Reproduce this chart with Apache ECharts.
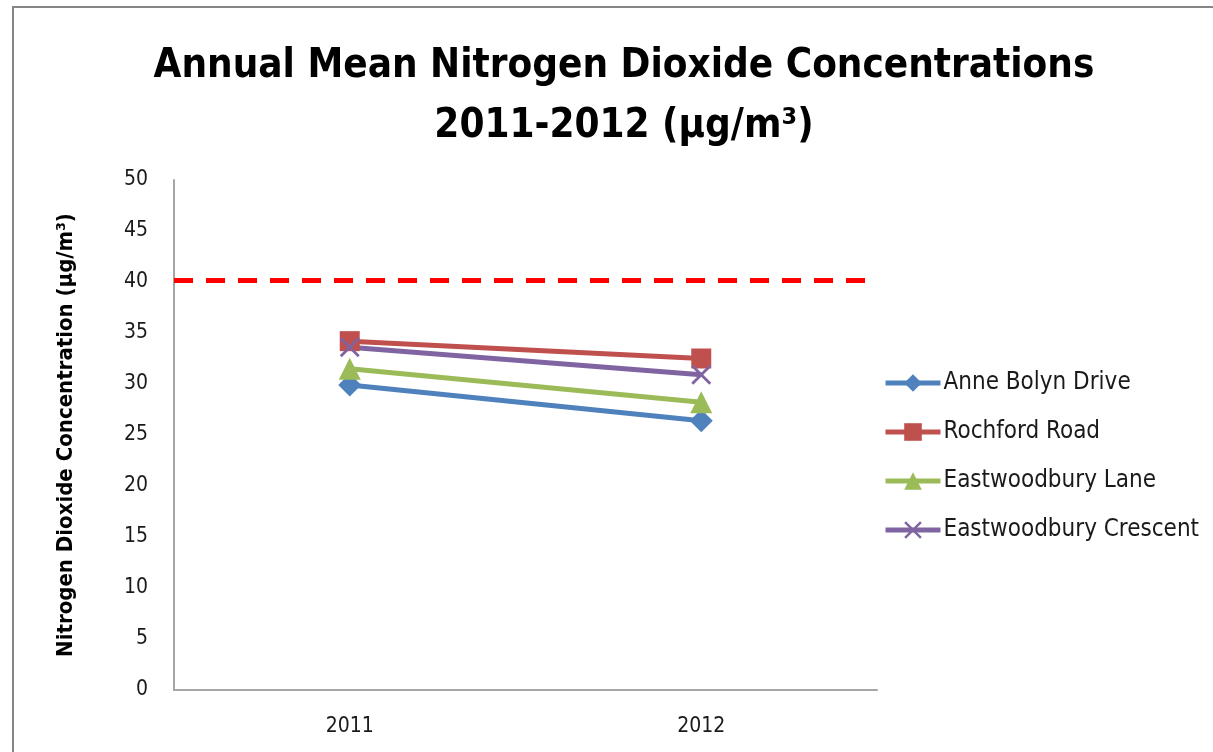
<!DOCTYPE html>
<html>
<head>
<meta charset="utf-8">
<script src="https://cdn.jsdelivr.net/npm/echarts@6/dist/echarts.min.js"></script>
<style>
  html, body { margin: 0; padding: 0; background: #fff; }
  #chart { width: 1213px; height: 752px; }
</style>
</head>
<body>
<div id="chart"></div>
<script>
// years on the x axis
var years = ['2011', '2012'];
// annual means per site (µg/m³)
var anneBolyn = [29.9, 26.4];
var rochford = [34.2, 32.5];
var eastwoodburyLane = [31.5, 28.2];
var eastwoodburyCrescent = [33.6, 30.9];
// objective limit
var limitValue = 40.2;

var FONT = '"Liberation Sans Narrow", "DejaVu Sans Condensed", "Noto Sans", sans-serif';
var crossPath = 'path://M0,1L1,0L5,4L9,0L10,1L6,5L10,9L9,10L5,6L1,10L0,9L4,5Z';

function makeSeries(name, data, color, symbol, size) {
  return {
    name: name,
    type: 'line',
    data: data,
    symbol: symbol,
    symbolSize: size,
    lineStyle: { width: 5, color: color },
    itemStyle: { color: color },
    emphasis: { disabled: true }
  };
}

var chart = echarts.init(document.getElementById('chart'));
var series = [
  makeSeries('Anne Bolyn Drive', anneBolyn, '#4F81BD', 'diamond', 23),
  makeSeries('Rochford Road', rochford, '#C0504D', 'rect', 20),
  makeSeries('Eastwoodbury Lane', eastwoodburyLane, '#9BBB59', 'triangle', 22),
  makeSeries('Eastwoodbury Crescent', eastwoodburyCrescent, '#8064A2', crossPath, 20)
];
// dashed limit line
series[0].markLine = {
  silent: true,
  symbol: 'none',
  label: { show: false },
  lineStyle: { color: '#FF0000', width: 5, type: [19, 13] },
  data: [{ yAxis: limitValue }]
};

chart.setOption({
  backgroundColor: '#fff',
  animation: false,
  graphic: [{
    type: 'rect',
    shape: { x: 13, y: 7, width: 1400, height: 900 },
    style: { fill: 'none', stroke: '#868686', lineWidth: 2 },
    silent: true
  }],
  title: {
    text: 'Annual Mean Nitrogen Dioxide Concentrations\n2011-2012 (µg/m³)',
    left: 619,
    textAlign: 'center',
    top: 32,
    textStyle: {
      fontFamily: FONT,
      fontWeight: 'bold',
      fontSize: 40,
      lineHeight: 60,
      color: '#000'
    }
  },
  legend: {
    orient: 'vertical',
    left: 878,
    top: 366,
    itemWidth: 55,
    itemHeight: 22,
    itemGap: 25,
    itemStyle: { borderWidth: 0 },
    lineStyle: { width: 5 },
    textStyle: { fontFamily: FONT, fontSize: 24, color: '#1a1a1a', padding: [0, 0, 0, -2] },
    data: series.map(function (s) { return s.name; })
  },
  grid: { left: 174, right: 336, top: 180, bottom: 62, containLabel: false },
  xAxis: {
    type: 'category',
    data: years,
    boundaryGap: true,
    axisLine: { lineStyle: { color: '#A6A6A6', width: 2 } },
    axisTick: { show: false },
    axisLabel: { fontFamily: FONT, fontSize: 21, color: '#1a1a1a', margin: 26 }
  },
  yAxis: {
    type: 'value',
    min: 0,
    max: 50,
    interval: 5,
    name: 'Nitrogen Dioxide Concentration (µg/m³)',
    nameLocation: 'middle',
    nameGap: 97,
    nameTextStyle: { fontFamily: FONT, fontWeight: 'bold', fontSize: 22, color: '#000' },
    axisLine: { show: true, lineStyle: { color: '#A6A6A6', width: 2 } },
    axisTick: { show: false },
    splitLine: { show: false },
    axisLabel: { fontFamily: FONT, fontSize: 21, color: '#1a1a1a', margin: 26 }
  },
  series: series
});
</script>
</body>
</html>
